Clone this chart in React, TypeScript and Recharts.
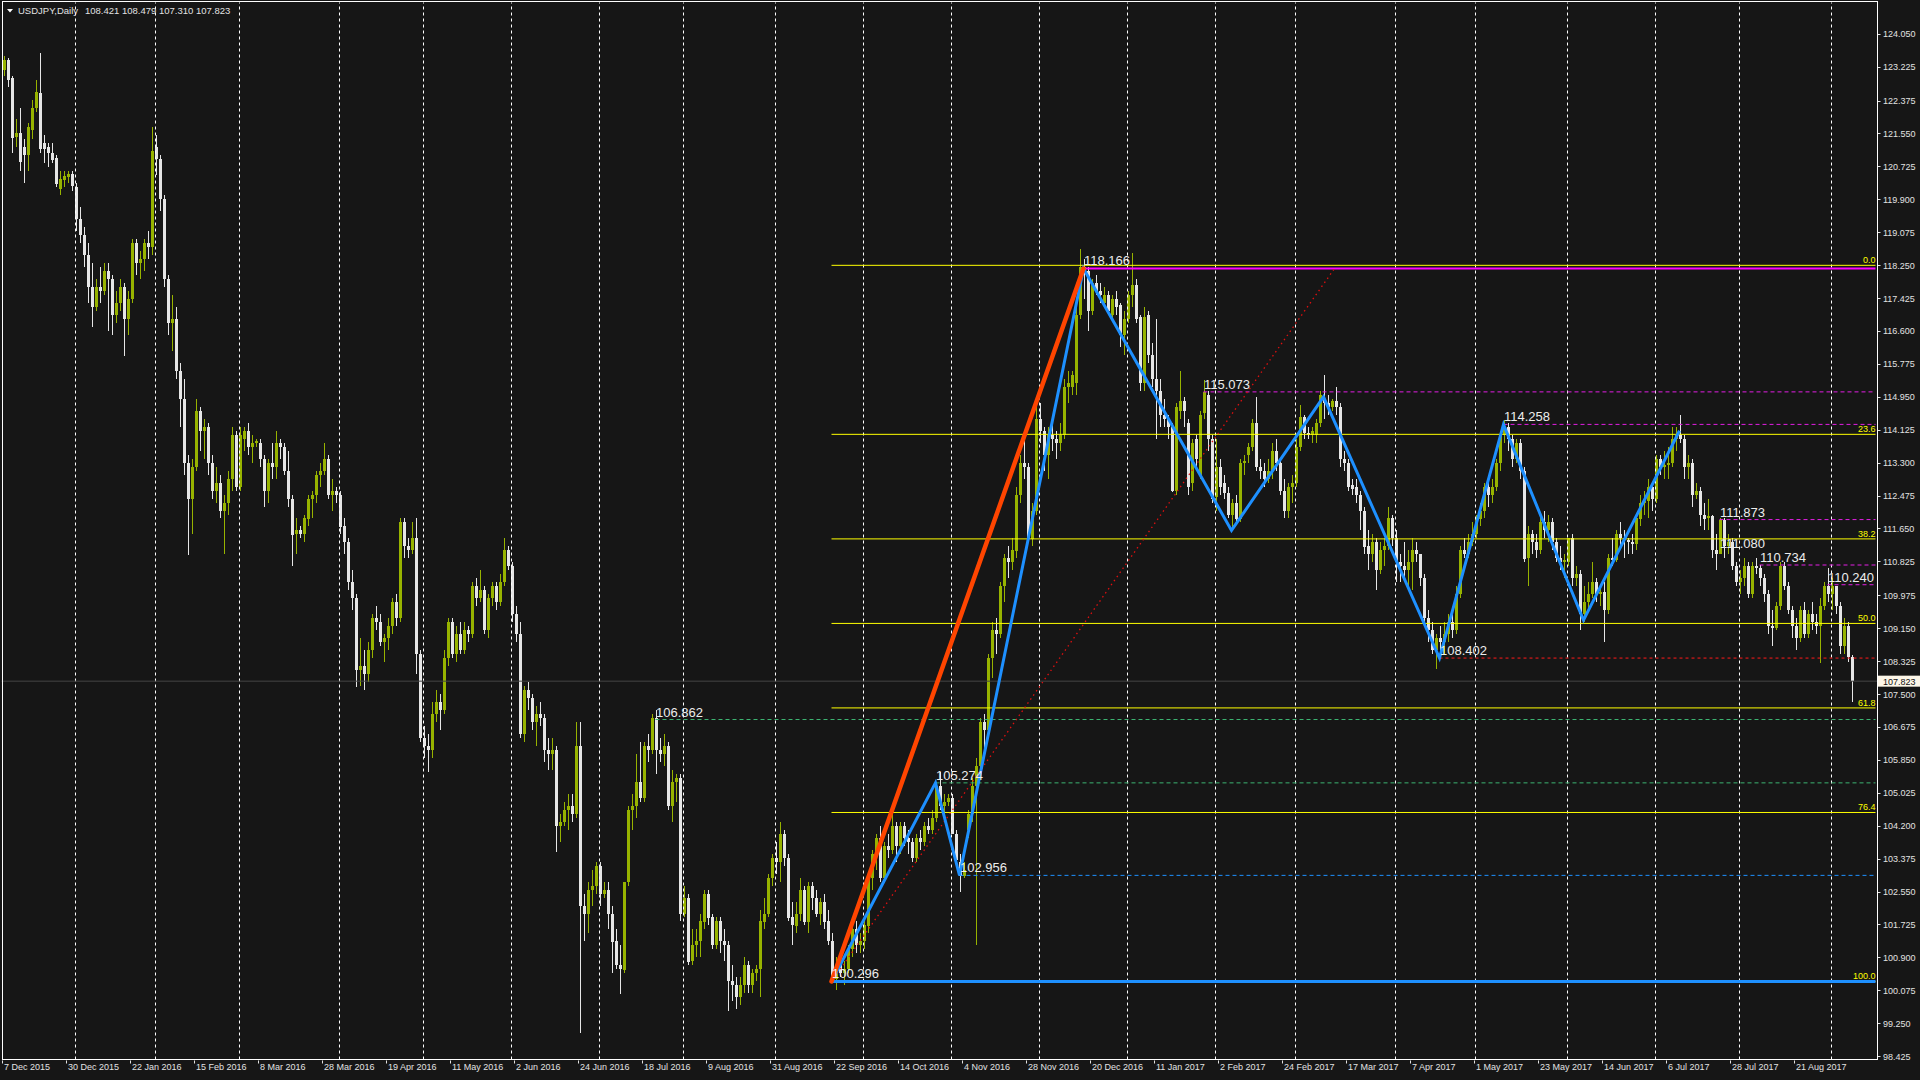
import React from 'react'
import { ComposedChart, Bar, Line, XAxis, YAxis, ReferenceLine, ReferenceDot } from 'recharts'

type Ohlc = [number, number, number, number] // open, high, low, close

// daily candles, one array per month
const dec2015: Ohlc[] = [
  [123.15, 123.5, 123.0, 123.39], [123.39, 123.45, 122.72, 122.9], [122.94, 122.98, 121.07, 121.43], [121.45, 121.9, 121.2, 121.56],
  [121.56, 122.2, 120.6, 120.83], [121.2, 121.4, 120.3, 121.0], [121.0, 121.8, 120.6, 121.7], [121.66, 122.4, 121.4, 122.2],
  [122.2, 122.9, 122.1, 122.6], [122.57, 123.57, 121.06, 121.16], [121.3, 121.5, 120.8, 121.16], [121.2, 121.3, 120.7, 121.05],
  [121.07, 121.3, 120.8, 120.9], [120.93, 121.0, 120.2, 120.28], [120.15, 120.6, 120.0, 120.4], [120.38, 120.6, 120.2, 120.48],
  [120.45, 120.6, 120.3, 120.53], [120.53, 120.6, 120.1, 120.23],
]
const jan2016: Ohlc[] = [
  [120.2, 120.3, 119.1, 119.4], [119.4, 119.7, 118.8, 119.0], [119.0, 119.2, 118.2, 118.5], [118.5, 118.8, 117.3, 117.7],
  [117.7, 118.3, 116.7, 117.2], [117.2, 117.9, 117.1, 117.7], [117.7, 118.2, 117.3, 117.6], [117.6, 118.3, 117.5, 118.1],
  [118.1, 118.3, 116.6, 117.9], [117.9, 118.0, 116.5, 117.0], [117.0, 117.6, 116.8, 117.3], [117.3, 117.9, 117.1, 117.7],
  [117.7, 117.8, 115.97, 116.9], [116.9, 117.6, 116.5, 117.4], [117.4, 118.9, 117.3, 118.8], [118.8, 118.9, 118.0, 118.3],
  [118.3, 118.6, 117.9, 118.4], [118.4, 118.9, 118.1, 118.8], [118.8, 119.1, 118.4, 118.7], [118.7, 121.7, 118.5, 121.1],
]
const feb2016: Ohlc[] = [
  [121.2, 121.5, 120.5, 120.9], [120.9, 121.0, 119.6, 119.9], [119.9, 120.0, 117.7, 117.9], [117.9, 118.0, 116.5, 116.8],
  [116.8, 117.5, 116.1, 116.9], [116.9, 117.2, 115.4, 115.6], [115.6, 115.8, 114.2, 114.9], [114.9, 115.4, 113.0, 113.3],
  [113.3, 113.5, 110.99, 112.4], [112.4, 113.4, 111.5, 113.2], [113.2, 114.9, 113.1, 114.6], [114.6, 114.7, 113.6, 114.1],
  [114.1, 114.4, 113.4, 114.2], [114.2, 114.3, 113.0, 113.3], [113.3, 113.5, 112.4, 112.6], [112.6, 113.2, 112.3, 112.8],
  [112.8, 113.0, 111.9, 112.1], [112.1, 112.5, 111.0, 112.3], [112.3, 113.1, 112.0, 112.9], [112.9, 114.2, 112.6, 114.0],
  [114.0, 114.1, 112.6, 112.7],
]
const mar2016: Ohlc[] = [
  [112.7, 114.2, 112.6, 114.0], [113.9, 114.2, 113.6, 114.1], [114.1, 114.3, 113.5, 113.7], [113.7, 114.0, 113.3, 113.8],
  [113.8, 113.9, 113.7, 113.85], [113.8, 113.9, 113.2, 113.4], [113.4, 113.5, 112.2, 112.6], [112.6, 113.4, 112.3, 113.3],
  [113.3, 113.8, 112.9, 113.2], [113.2, 114.1, 112.9, 113.8], [113.8, 113.9, 113.4, 113.7], [113.7, 113.8, 113.0, 113.1],
  [113.1, 113.6, 112.2, 112.4], [112.4, 112.5, 110.7, 111.5], [111.5, 111.9, 111.0, 111.6], [111.6, 111.7, 111.4, 111.5],
  [111.5, 112.0, 111.3, 111.9], [111.9, 112.5, 111.7, 112.4], [112.4, 112.6, 111.9, 112.5], [112.5, 113.1, 112.3, 113.0],
  [113.0, 113.3, 112.7, 113.1], [113.1, 113.8, 113.0, 113.4], [113.4, 113.5, 112.4, 112.5], [112.5, 112.9, 112.1, 112.6],
  [112.6, 112.7, 112.3, 112.5],
]
const apr2016: Ohlc[] = [
  [112.5, 112.6, 111.5, 111.7], [111.7, 111.9, 111.0, 111.3], [111.3, 111.4, 110.1, 110.3], [110.3, 110.6, 109.6, 109.9],
  [109.9, 110.0, 107.67, 108.1], [108.1, 108.9, 107.7, 108.2], [108.2, 108.6, 107.6, 108.0], [108.0, 108.8, 107.8, 108.6],
  [108.6, 109.5, 108.4, 109.4], [109.4, 109.7, 109.1, 109.3], [109.3, 109.5, 108.7, 108.8], [108.8, 109.0, 108.3, 108.9],
  [108.9, 109.4, 108.6, 109.2], [109.2, 109.9, 109.0, 109.8], [109.8, 110.0, 109.2, 109.4], [109.4, 111.9, 109.3, 111.8],
  [111.8, 111.9, 110.9, 111.2], [111.2, 111.4, 110.9, 111.1], [111.1, 111.8, 111.0, 111.4], [111.4, 111.9, 108.0, 108.5],
  [108.5, 108.6, 106.3, 106.4],
]
const may2016: Ohlc[] = [
  [106.4, 106.7, 105.9, 106.2], [106.2, 106.5, 105.55, 106.1], [106.1, 107.3, 105.9, 107.0], [107.0, 107.6, 106.8, 107.3],
  [107.3, 107.5, 106.6, 107.1], [107.1, 108.6, 107.0, 108.4], [108.4, 109.4, 108.2, 109.3], [109.3, 109.4, 108.4, 108.5],
  [108.5, 109.2, 108.3, 109.0], [109.0, 109.3, 108.5, 108.6], [108.6, 109.3, 108.5, 109.1], [109.1, 109.2, 108.8, 109.0],
  [109.0, 110.3, 108.9, 110.2], [110.2, 110.4, 109.7, 109.9], [109.9, 110.6, 109.8, 110.1], [110.1, 110.2, 109.0, 109.1],
  [109.1, 110.0, 108.9, 109.9], [109.9, 110.3, 109.7, 110.2], [110.2, 110.3, 109.6, 109.8], [109.8, 110.5, 109.7, 110.3],
  [110.3, 111.4, 110.2, 111.1], [111.1, 111.2, 110.6, 110.7],
]
const jun2016: Ohlc[] = [
  [110.7, 110.8, 109.3, 109.5], [109.5, 109.7, 108.8, 109.0], [109.0, 109.3, 106.4, 106.5], [106.5, 107.7, 106.3, 107.6],
  [107.6, 107.8, 107.1, 107.4], [107.4, 107.5, 106.6, 106.8], [106.8, 107.2, 106.2, 107.0], [107.0, 107.3, 106.7, 106.9],
  [106.9, 107.0, 105.8, 106.1], [106.1, 106.4, 105.6, 106.0], [106.0, 106.4, 105.6, 106.1], [106.1, 106.2, 103.55, 104.2],
  [104.2, 104.5, 103.8, 104.3], [104.3, 104.8, 104.2, 104.6], [104.6, 105.0, 104.1, 104.7], [104.7, 105.0, 104.3, 104.5],
  [104.5, 106.8, 104.4, 106.2], [106.2, 106.8, 99.0, 102.2], [102.2, 102.5, 101.3, 102.0], [102.0, 102.8, 101.5, 102.6],
  [102.6, 103.1, 102.2, 102.7], [102.7, 103.3, 102.5, 103.2],
]
const jul2016: Ohlc[] = [
  [103.2, 103.3, 102.2, 102.5], [102.5, 102.8, 102.4, 102.6], [102.6, 102.8, 101.6, 102.0], [102.0, 102.2, 100.5, 101.3],
  [101.3, 101.6, 100.6, 100.7], [100.7, 101.2, 99.99, 100.6], [100.6, 102.8, 100.5, 102.8], [102.8, 104.7, 102.7, 104.6],
  [104.6, 105.0, 104.1, 104.7], [104.7, 106.0, 104.4, 105.3], [105.3, 106.3, 104.8, 104.9], [104.9, 106.3, 104.8, 106.2],
  [106.2, 106.5, 105.8, 106.1], [106.1, 107.0, 106.0, 106.9], [106.9, 107.1, 105.5, 106.1], [106.1, 106.4, 105.8, 106.0],
  [106.0, 106.5, 105.7, 106.2], [106.2, 106.3, 104.6, 104.7], [104.7, 105.6, 104.3, 105.3], [105.3, 105.5, 104.8, 105.4],
  [105.4, 105.5, 101.8, 102.0],
]
const aug2016: Ohlc[] = [
  [102.0, 102.7, 101.9, 102.4], [102.4, 102.5, 100.7, 100.8], [100.8, 101.6, 100.7, 101.2], [101.2, 101.6, 100.9, 101.3],
  [101.3, 102.0, 100.9, 101.8], [101.8, 102.6, 101.6, 102.5], [102.5, 102.6, 101.7, 101.9], [101.9, 102.0, 101.1, 101.2],
  [101.2, 101.9, 101.1, 101.8], [101.8, 101.9, 101.0, 101.3], [101.3, 101.6, 100.8, 101.2], [101.2, 101.3, 99.55, 100.3],
  [100.3, 100.7, 99.8, 100.2], [100.2, 100.4, 99.6, 99.9], [99.9, 100.4, 99.7, 100.2], [100.2, 100.9, 100.0, 100.7],
  [100.7, 100.8, 100.0, 100.2], [100.2, 100.6, 100.0, 100.5], [100.5, 100.7, 100.3, 100.6], [100.6, 102.1, 99.9, 101.8],
  [101.8, 102.4, 101.6, 102.0], [102.0, 103.0, 101.9, 102.9], [102.9, 103.5, 102.7, 103.4],
]
const sep2016: Ohlc[] = [
  [103.4, 103.8, 103.0, 103.3], [103.3, 104.3, 102.8, 104.0], [104.0, 104.1, 103.2, 103.4], [103.4, 103.5, 101.8, 101.9],
  [101.9, 102.3, 101.2, 101.7], [101.7, 102.3, 101.5, 102.0], [102.0, 102.9, 101.8, 102.6], [102.6, 102.7, 101.7, 101.8],
  [101.8, 102.8, 101.5, 102.7], [102.7, 102.8, 102.1, 102.4], [102.4, 102.6, 101.9, 102.0], [102.0, 102.4, 101.7, 102.3],
  [102.3, 102.5, 101.6, 101.8], [101.8, 102.1, 101.2, 101.3], [101.3, 101.5, 100.3, 100.35], [100.35, 100.9, 100.08, 100.7],
  [100.7, 101.0, 100.4, 100.5], [100.5, 100.8, 100.2, 100.6], [100.6, 101.2, 100.5, 101.1], [101.1, 101.7, 100.9, 101.6],
  [101.6, 101.8, 101.0, 101.2], [101.2, 101.5, 101.0, 101.3],
]
const oct2016: Ohlc[] = [
  [101.3, 101.9, 101.1, 101.7], [101.7, 103.0, 101.5, 102.9], [102.9, 103.6, 102.6, 103.5], [103.5, 104.0, 103.1, 103.9],
  [103.9, 104.2, 102.8, 102.9], [102.9, 103.8, 102.8, 103.7], [103.7, 104.0, 103.4, 103.6], [103.6, 104.6, 103.5, 104.2],
  [104.2, 104.3, 103.3, 103.7], [103.7, 104.3, 103.5, 104.2], [104.2, 104.3, 103.7, 103.9], [103.9, 104.1, 103.5, 103.8],
  [103.8, 103.9, 103.3, 103.4], [103.4, 104.0, 103.3, 103.9], [103.9, 104.1, 103.6, 103.8], [103.8, 104.3, 103.7, 104.2],
  [104.2, 104.4, 104.0, 104.1], [104.1, 104.6, 104.0, 104.4], [104.4, 105.3, 104.3, 105.2], [105.2, 105.54, 104.6, 104.7],
  [104.7, 105.0, 104.5, 104.8], [104.8, 105.0, 104.7, 104.9],
]
const nov2016: Ohlc[] = [
  [104.9, 105.0, 104.0, 104.0], [104.0, 104.1, 103.3, 103.35], [103.3, 103.5, 102.55, 102.95], [102.95, 103.3, 102.9, 103.1],
  [104.1, 104.6, 103.9, 104.5], [104.5, 105.4, 104.3, 105.2], [105.2, 105.9, 101.2, 105.7], [105.7, 106.9, 105.4, 106.8],
  [106.8, 107.0, 105.9, 106.6], [106.6, 108.5, 106.4, 108.4], [108.4, 109.3, 107.9, 109.1], [109.1, 109.4, 108.5, 109.0],
  [109.0, 110.3, 108.9, 110.2], [110.2, 111.0, 109.8, 110.9], [110.9, 111.2, 110.4, 110.8], [110.8, 111.4, 110.6, 111.1],
  [111.1, 112.7, 110.9, 112.5], [112.5, 113.5, 112.3, 113.3], [113.3, 113.9, 112.9, 113.2], [113.2, 113.3, 111.3, 111.4],
  [111.4, 112.3, 111.2, 112.1], [112.1, 114.8, 112.0, 114.4],
]
const dec2016: Ohlc[] = [
  [114.4, 114.8, 113.8, 114.1], [114.1, 114.2, 113.1, 113.5], [113.5, 114.2, 112.9, 114.0], [114.0, 114.3, 113.6, 113.9],
  [113.9, 114.1, 113.4, 113.8], [113.8, 114.3, 113.6, 114.0], [114.0, 115.4, 113.9, 115.2], [115.2, 115.6, 114.8, 115.3],
  [115.2, 115.6, 115.0, 115.5], [115.3, 117.2, 115.0, 117.0], [117.0, 118.66, 116.9, 118.2], [118.2, 118.4, 117.4, 118.1],
  [118.1, 118.2, 116.6, 117.1], [117.1, 117.9, 117.0, 117.8], [117.8, 118.0, 117.5, 117.6], [117.6, 117.8, 117.3, 117.5],
  [117.3, 117.7, 117.2, 117.5], [117.5, 117.6, 117.0, 117.1], [117.0, 117.5, 116.9, 117.4], [117.4, 117.6, 117.0, 117.2],
  [117.25, 117.3, 116.2, 116.5], [116.5, 117.1, 116.0, 116.9],
]
const jan2017: Ohlc[] = [
  [116.9, 117.6, 116.8, 117.5], [117.5, 118.55, 117.2, 117.75], [117.75, 117.9, 116.8, 116.9], [116.95, 117.0, 115.1, 115.3],
  [115.3, 117.2, 115.1, 116.95], [117.0, 117.1, 115.8, 116.0], [116.0, 116.3, 115.2, 115.4], [115.4, 116.9, 113.9, 115.1],
  [115.1, 115.4, 114.2, 114.5], [114.5, 114.9, 114.2, 114.4], [114.4, 114.5, 113.9, 114.2], [114.2, 114.3, 112.57, 112.6],
  [112.6, 114.8, 112.5, 114.7], [114.6, 115.6, 114.4, 114.85], [114.85, 114.95, 114.2, 114.6], [114.3, 114.4, 112.5, 112.7],
  [112.8, 113.9, 112.6, 113.8], [113.9, 114.0, 113.2, 113.4], [113.0, 114.6, 112.9, 114.5], [114.55, 115.37, 114.4, 115.07],
  [115.0, 115.1, 113.6, 113.9], [113.9, 114.0, 112.3, 112.4],
]
const feb2017: Ohlc[] = [
  [112.45, 113.9, 112.1, 113.2], [113.2, 113.4, 112.5, 112.7], [112.8, 113.0, 112.4, 112.55], [112.55, 112.7, 111.9, 112.0],
  [112.0, 112.4, 111.59, 112.3], [112.3, 112.5, 111.8, 111.9], [111.9, 113.4, 111.8, 113.3], [113.3, 113.5, 113.0, 113.35],
  [113.5, 113.8, 113.3, 113.7], [113.7, 114.4, 113.6, 114.3], [114.3, 114.95, 113.1, 113.2], [113.2, 113.4, 112.9, 113.1],
  [113.1, 113.3, 112.7, 112.9], [112.9, 113.4, 112.8, 113.1], [113.1, 113.8, 112.9, 113.6], [113.6, 113.9, 113.1, 113.3],
  [113.3, 113.4, 112.5, 112.6], [112.6, 112.9, 111.9, 112.1], [112.1, 112.8, 111.9, 112.7], [112.7, 113.0, 112.3, 112.8],
]
const mar2017: Ohlc[] = [
  [112.8, 113.9, 112.7, 113.7], [113.7, 114.75, 113.6, 114.45], [114.45, 114.5, 113.9, 114.05], [114.05, 114.2, 113.9, 114.0],
  [114.0, 114.2, 113.8, 114.1], [114.0, 114.4, 113.8, 114.3], [114.3, 115.1, 114.2, 115.0], [114.9, 115.5, 114.4, 114.8],
  [114.8, 115.0, 114.5, 114.7], [114.7, 114.9, 114.6, 114.85], [114.85, 115.2, 114.5, 114.7], [114.7, 114.8, 113.2, 113.4],
  [113.4, 113.6, 113.1, 113.3], [113.3, 113.4, 112.6, 112.7], [112.75, 112.9, 112.5, 112.65], [112.7, 112.9, 112.3, 112.5],
  [112.5, 112.6, 111.6, 112.1], [112.1, 112.2, 111.0, 111.2], [111.2, 111.6, 110.6, 111.0], [111.0, 111.5, 110.8, 111.3],
  [111.3, 111.4, 110.1, 110.6], [110.6, 111.3, 110.5, 111.1], [111.1, 111.4, 110.7, 111.2], [111.2, 112.2, 111.1, 111.9],
  [111.9, 112.0, 111.2, 111.4],
]
const apr2017: Ohlc[] = [
  [111.4, 111.6, 110.3, 110.8], [110.8, 111.0, 110.3, 110.7], [110.7, 111.3, 110.3, 110.6], [110.6, 111.1, 110.1, 110.8],
  [110.8, 111.4, 110.1, 111.1], [111.1, 111.3, 110.8, 111.0], [111.0, 111.0, 110.2, 110.4], [110.4, 110.5, 109.2, 109.4],
  [109.4, 109.6, 108.8, 109.1], [109.1, 109.3, 108.5, 108.6], [108.6, 109.0, 108.13, 108.9], [108.9, 109.2, 108.4, 108.8],
  [108.8, 109.3, 108.5, 109.0], [109.0, 109.5, 108.8, 109.3], [109.3, 109.5, 108.9, 109.1], [109.1, 110.2, 109.0, 110.0],
  [110.0, 111.2, 109.9, 111.1], [111.1, 111.4, 110.9, 111.0], [111.0, 111.5, 110.9, 111.3], [111.3, 111.8, 111.2, 111.5],
]
const may2017: Ohlc[] = [
  [111.5, 112.0, 111.4, 111.9], [111.9, 112.3, 111.7, 112.1], [112.1, 112.8, 111.9, 112.7], [112.7, 112.9, 112.2, 112.5],
  [112.5, 112.9, 112.3, 112.7], [112.7, 113.4, 112.6, 113.3], [113.3, 114.1, 113.1, 114.0], [114.0, 114.37, 113.8, 114.2],
  [114.2, 114.3, 113.6, 113.9], [113.9, 114.0, 113.2, 113.4], [113.4, 113.9, 113.3, 113.8], [113.8, 113.9, 112.9, 113.1],
  [113.1, 113.2, 110.8, 110.9], [110.9, 111.7, 110.2, 111.5], [111.5, 111.6, 111.0, 111.3], [111.3, 111.5, 110.9, 111.1],
  [111.1, 111.9, 111.0, 111.8], [111.8, 112.1, 111.4, 111.6], [111.6, 112.0, 111.3, 111.8], [111.8, 111.9, 111.1, 111.3],
  [111.3, 111.4, 110.8, 110.9], [110.9, 111.2, 110.6, 110.8], [110.8, 111.0, 110.4, 110.85],
]
const jun2017: Ohlc[] = [
  [110.8, 111.4, 110.7, 111.4], [111.4, 111.5, 110.2, 110.4], [110.4, 110.7, 110.2, 110.5], [110.5, 110.6, 109.1, 109.5],
  [109.5, 110.2, 109.3, 109.8], [109.8, 110.3, 109.6, 110.0], [110.0, 110.8, 109.9, 110.3], [110.3, 110.4, 109.8, 110.0],
  [110.0, 110.2, 109.7, 110.05], [110.05, 110.3, 108.8, 109.6], [109.6, 111.0, 109.5, 110.9], [110.9, 111.4, 110.7, 110.85],
  [110.85, 111.6, 110.8, 111.5], [111.5, 111.8, 111.2, 111.4], [111.4, 111.6, 110.9, 111.35], [111.35, 111.4, 111.0, 111.3],
  [111.3, 111.5, 111.0, 111.25], [111.25, 112.0, 111.1, 111.9], [111.9, 112.5, 111.7, 112.3], [112.3, 112.6, 112.0, 112.35],
  [112.35, 112.9, 111.9, 112.7], [112.7, 112.8, 112.1, 112.4],
]
const jul2017: Ohlc[] = [
  [112.4, 113.5, 112.3, 113.4], [113.4, 113.5, 113.0, 113.2], [113.2, 113.6, 112.9, 113.25], [113.25, 113.7, 112.9, 113.3],
  [113.3, 114.2, 113.2, 113.9], [113.9, 114.2, 113.6, 114.0], [114.0, 114.49, 113.8, 113.9], [113.9, 114.0, 112.9, 113.2],
  [113.2, 113.5, 112.9, 113.3], [113.3, 113.4, 112.2, 112.5], [112.5, 112.8, 112.4, 112.6], [112.6, 112.7, 111.7, 112.0],
  [112.0, 112.3, 111.6, 111.9], [111.9, 112.4, 111.6, 111.95], [111.95, 112.0, 110.9, 111.1], [111.1, 111.5, 110.6, 111.0],
  [111.0, 111.9, 111.0, 111.85], [111.85, 111.9, 110.9, 111.2], [111.2, 111.5, 111.0, 111.3], [111.3, 111.4, 110.6, 110.7],
  [110.7, 110.8, 110.2, 110.3],
]
const aug2017: Ohlc[] = [
  [110.3, 110.6, 110.0, 110.4], [110.4, 110.9, 110.2, 110.7], [110.7, 110.8, 109.9, 110.0], [110.0, 110.8, 109.9, 110.7],
  [110.7, 110.9, 110.5, 110.65], [110.65, 110.73, 110.2, 110.4], [110.4, 110.5, 109.8, 110.0], [110.0, 110.1, 109.0, 109.2],
  [109.2, 109.6, 108.7, 109.15], [109.15, 109.8, 109.1, 109.7], [109.7, 110.8, 109.6, 110.7], [110.7, 110.8, 110.1, 110.2],
  [110.2, 110.3, 109.5, 109.6], [109.6, 109.7, 108.9, 109.2], [109.2, 109.4, 108.6, 108.9], [108.9, 109.7, 108.8, 109.6],
  [109.6, 109.8, 108.9, 109.0], [109.0, 109.6, 108.9, 109.5], [109.5, 109.8, 109.1, 109.3], [109.3, 109.5, 109.0, 109.2],
  [109.2, 109.9, 108.27, 109.7], [109.7, 110.3, 109.6, 110.2], [110.2, 110.67, 109.8, 110.0],
]
const sep2017: Ohlc[] = [
  [110.0, 110.4, 109.6, 110.2], [110.2, 110.2, 109.5, 109.7], [109.7, 109.8, 108.5, 108.7], [108.7, 109.4, 108.5, 109.2],
  [109.2, 109.3, 108.3, 108.42], [108.421, 108.479, 107.31, 107.823],
]

// bottom axis labels (every 16 bars) and month separators
const xLabelBars = [0, 16, 32, 48, 64, 80, 96, 112, 128, 144, 160, 176, 192, 208, 224, 240, 256, 272, 288, 304, 320, 336, 352, 368, 384, 400, 416, 432, 448]
const xLabels = ['7 Dec 2015', '30 Dec 2015', '22 Jan 2016', '15 Feb 2016', '8 Mar 2016', '28 Mar 2016', '19 Apr 2016', '11 May 2016',
  '2 Jun 2016', '24 Jun 2016', '18 Jul 2016', '9 Aug 2016', '31 Aug 2016', '22 Sep 2016', '14 Oct 2016', '4 Nov 2016', '28 Nov 2016',
  '20 Dec 2016', '11 Jan 2017', '2 Feb 2017', '24 Feb 2017', '17 Mar 2017', '7 Apr 2017', '1 May 2017', '23 May 2017', '14 Jun 2017',
  '6 Jul 2017', '28 Jul 2017', '21 Aug 2017']
const monthStartBars = [18, 38, 59, 84, 105, 127, 149, 170, 193, 215, 237, 259, 281, 303, 323, 348, 368, 391, 413, 434, 457]

const yTicks = [124.05, 123.225, 122.375, 121.55, 120.725, 119.9, 119.075, 118.25, 117.425, 116.6, 115.775, 114.95, 114.125, 113.3,
  112.475, 111.65, 110.825, 109.975, 109.15, 108.325, 107.5, 106.675, 105.85, 105.025, 104.2, 103.375, 102.55, 101.725, 100.9,
  100.075, 99.25, 98.425]

// drawn objects
const zigzagBars = [207, 233, 239, 270, 307, 330, 359, 375, 395, 419]
const zigzagPrices = [100.296, 105.274, 102.956, 118.166, 111.6, 114.95, 108.402, 114.258, 109.35, 114.1]
const impulseBars = [207, 270]
const impulsePrices = [100.296, 118.166]
const trendBars = [207, 333]
const trendPrices = [100.296, 118.2]

const fibStartBar = 207
const fibHigh = 118.245
const fibLow = 100.296
const fibLevels = [0, 23.6, 38.2, 50, 61.8, 76.4, 100]

const levelPrices = [118.166, 115.073, 114.258, 111.873, 110.734, 110.24, 108.402, 106.862, 105.274, 102.956, 100.296]
const levelBars = [270, 300, 375, 429, 439, 456, 359, 163, 233, 239, 207]
const levelKinds = ['top', 'high', 'high', 'high', 'high', 'high', 'low', 'swing', 'swing', 'dip', 'base']

const tagPrices = [118.166, 115.073, 114.258, 111.873, 111.08, 110.734, 110.24, 108.402, 106.862, 105.274, 102.956, 100.296]
const tagBars = [270, 300, 375, 429, 429, 439, 456, 359, 163, 233, 239, 207]

const symbol = 'USDJPY,Daily'
const lastBar = [108.421, 108.479, 107.31, 107.823]

// ---- layout / style
const W = 1920
const H = 1080
const SLOTS = 469
const LAST = SLOTS - 1
const Y_MAX = 124.832
const Y_MIN = 98.341
const BG = '#161616'
const BULL = '#97b300'
const BEAR = '#e6e6e6'
const TEXT = '#e2e2e2'
const FONT = "'Liberation Sans', Arial, sans-serif"

const LEVEL_STYLE: Record<string, { stroke: string; width: number; dash?: string }> = {
  top: { stroke: '#ff00ff', width: 2 },
  high: { stroke: '#e21ee2', width: 1, dash: '4 3' },
  low: { stroke: '#ff1a1a', width: 1, dash: '3 3' },
  swing: { stroke: '#3cb371', width: 1, dash: '4 3' },
  dip: { stroke: '#1e90ff', width: 1, dash: '4 3' },
  base: { stroke: '#1e90ff', width: 3 },
}

const candles: Ohlc[] = [
  ...dec2015, ...jan2016, ...feb2016, ...mar2016, ...apr2016, ...may2016, ...jun2016, ...jul2016, ...aug2016, ...sep2016,
  ...oct2016, ...nov2016, ...dec2016, ...jan2017, ...feb2017, ...mar2017, ...apr2017, ...may2017, ...jun2017, ...jul2017,
  ...aug2017, ...sep2017,
]

type Row = { i: number; o?: number; h?: number; l?: number; c?: number; zz: number | null }

const rows: Row[] = Array.from({ length: SLOTS }, (_, i) => {
  const k = zigzagBars.indexOf(i)
  const zz = k >= 0 ? zigzagPrices[k] : null
  const cd = candles[i]
  return cd ? { i, o: cd[0], h: cd[1], l: cd[2], c: cd[3], zz } : { i, zz }
})

const candleRange = (d: Row) => (d.o == null ? null : [d.l, d.h])

function Candle(props: any) {
  const { x, y, width, height, payload } = props
  if (!payload || payload.o == null) return <g />
  const { o, h, l, c } = payload as Required<Row>
  const top = Math.min(y, y + height)
  const span = Math.abs(height)
  const k = h - l > 0 ? span / (h - l) : 0
  const yO = top + (h - o) * k
  const yC = top + (h - c) * k
  const color = c >= o ? BULL : BEAR
  const cx = x + width / 2
  const bTop = Math.round(Math.min(yO, yC))
  const bH = Math.max(1, Math.round(Math.abs(yC - yO)))
  return (
    <g shapeRendering="crispEdges">
      <line x1={cx} x2={cx} y1={Math.round(top)} y2={Math.round(top + span)} stroke={color} strokeWidth={1} />
      <rect x={x} y={bTop} width={width} height={bH} fill={color} />
    </g>
  )
}

function YTick(props: any) {
  const { x, y, payload } = props
  return (
    <g>
      <line x1={x} x2={x + 3} y1={Math.round(y) + 0.5} y2={Math.round(y) + 0.5} stroke={TEXT} />
      <text x={x + 5.5} y={y + 3.5} fill={TEXT} fontSize={9} fontFamily={FONT}>{Number(payload.value).toFixed(3)}</text>
    </g>
  )
}

function XTick(props: any) {
  const { x, y, payload } = props
  const k = xLabelBars.indexOf(Number(payload.value))
  return (
    <g>
      <line x1={x - 1} x2={x - 1} y1={y + 1} y2={y + 4} stroke={TEXT} />
      <text x={x + 0.5} y={y + 10.5} fill={TEXT} fontSize={9} fontFamily={FONT}>{k >= 0 ? xLabels[k] : ''}</text>
    </g>
  )
}

export default function App() {
  const fibPrices = fibLevels.map(f => fibHigh - (fibHigh - fibLow) * f / 100)
  return (
    <div style={{ position: 'absolute', left: 0, top: 0, width: W, height: H, background: BG, overflow: 'hidden' }}>
      <ComposedChart width={W} height={H} data={rows} margin={{ top: 2.5, right: 0, left: 1.5, bottom: 0 }}>
        <XAxis dataKey="i" type="category" ticks={xLabelBars} interval={0} tick={<XTick />} tickSize={0} tickMargin={0}
          tickLine={false} axisLine={false} height={20.5} />
        <YAxis orientation="right" type="number" domain={[Y_MIN, Y_MAX]} allowDataOverflow ticks={yTicks} interval={0}
          tick={<YTick />} tickSize={0} tickMargin={0} tickLine={false} axisLine={false} width={42.5} />

        {monthStartBars.map(b => (
          <ReferenceLine key={'g' + b} x={b} stroke="#ffffff" strokeDasharray="3 3" strokeWidth={1} />
        ))}
        <ReferenceLine y={lastBar[3]} stroke="#454545" strokeWidth={1} />

        {tagPrices.map((p, k) => (
          <ReferenceDot key={'t' + k} x={tagBars[k]} y={p} r={0} ifOverflow="visible"
            shape={(s: any) => (
              <text x={s.cx + 0.5} y={s.cy - 3} fill="#ededed" fontSize={13} fontFamily={FONT}>{p.toFixed(3)}</text>
            )} />
        ))}

        <Bar dataKey={candleRange} barSize={3} shape={Candle} isAnimationActive={false} />

        {fibPrices.map((p, k) => (
          <ReferenceLine key={'f' + k} segment={[{ x: fibStartBar, y: p }, { x: LAST, y: p }]} stroke="#ffff00" strokeWidth={1} ifOverflow="visible" />
        ))}
        {levelPrices.map((p, k) => {
          const st = LEVEL_STYLE[levelKinds[k]]
          return (
            <ReferenceLine key={'l' + k} segment={[{ x: levelBars[k], y: p }, { x: LAST, y: p }]} stroke={st.stroke}
              strokeWidth={st.width} strokeDasharray={st.dash} ifOverflow="visible" />
          )
        })}
        {fibLevels.map((f, k) => (
          <ReferenceDot key={'fl' + k} x={LAST} y={fibPrices[k]} r={0} ifOverflow="visible"
            shape={(s: any) => (
              <text x={s.cx} y={s.cy - 2} textAnchor="end" fill="#ffff00" fontSize={9} fontFamily={FONT}>{f.toFixed(1)}</text>
            )} />
        ))}
        <ReferenceLine segment={[{ x: trendBars[0], y: trendPrices[0] }, { x: trendBars[1], y: trendPrices[1] }]}
          stroke="#e01010" strokeWidth={1.3} strokeDasharray="1.5 3.5" ifOverflow="visible" />

        <Line dataKey="zz" type="linear" stroke="#1e90ff" strokeWidth={3} dot={false} activeDot={false} connectNulls isAnimationActive={false} />

        <ReferenceLine segment={[{ x: impulseBars[0], y: impulsePrices[0] }, { x: impulseBars[1], y: impulsePrices[1] }]}
          stroke="#ff4500" strokeWidth={4.5} strokeLinecap="round" ifOverflow="visible" />

        <ReferenceDot x={LAST} y={lastBar[3]} r={0} ifOverflow="visible"
          shape={(s: any) => (
            <g>
              <rect x={s.cx + 2.5} y={s.cy - 5.5} width={42} height={11} fill="#fdf6e8" />
              <text x={s.cx + 7.5} y={s.cy + 3.5} fill="#111" fontSize={9} fontFamily={FONT}>{lastBar[3].toFixed(3)}</text>
            </g>
          )} />
      </ComposedChart>

      <svg width={320} height={20} style={{ position: 'absolute', left: 0, top: 0 }}>
        <polygon points="7,9 13,9 10,12.5" fill="#ffffff" />
        <text x={18} y={14} fill={TEXT} fontSize={9.5} fontFamily={FONT}>{symbol}</text>
        <text x={85} y={14} fill={TEXT} fontSize={9.5} fontFamily={FONT}>{lastBar.map(v => v.toFixed(3)).join(' ')}</text>
      </svg>
      <div style={{ position: 'absolute', left: 2, top: 1, width: 1876, height: 1059, border: '1px solid #ffffff', boxSizing: 'border-box', pointerEvents: 'none' }} />
    </div>
  )
}
